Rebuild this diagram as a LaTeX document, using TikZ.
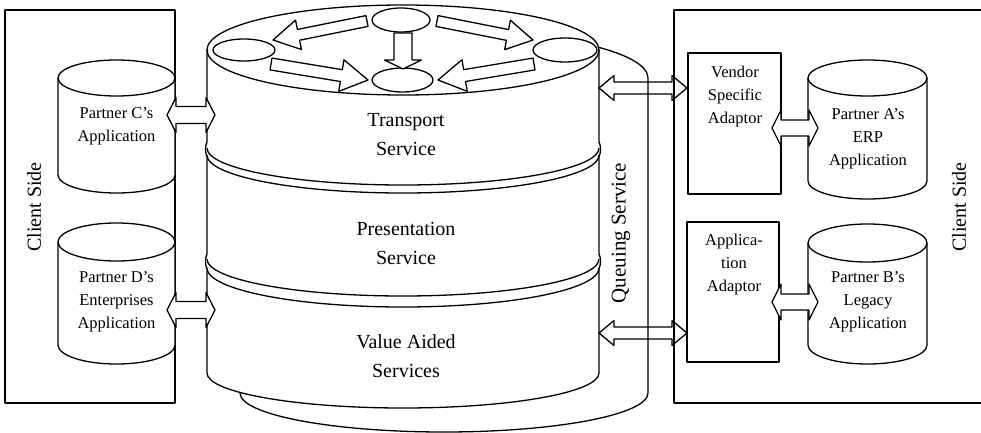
\documentclass[tikz,border=0pt]{standalone}
\usepackage{fontspec}
\setmainfont{Liberation Serif}
\usetikzlibrary{calc}

% database cylinder: centre x, top y, bottom y, x radius, y radius
\newcommand{\dbcyl}[5]{%
  \filldraw[ln, fill=white] ({#1-#4},#2) -- ({#1-#4},#3)
    arc[start angle=180, end angle=360, x radius=#4pt, y radius=#5pt]
    -- ({#1+#4},#2)
    arc[start angle=0, end angle=180, x radius=#4pt, y radius=#5pt] -- cycle;
  \draw[ln] ({#1-#4},#2)
    arc[start angle=180, end angle=360, x radius=#4pt, y radius=#5pt];
}

% one-headed block arrow: tail, tip, shaft half width, head half width, head length
\newcommand{\blockarrow}[5]{%
  \coordinate (ba-n) at ($(#2)!#5!(#1)$);
  \draw[blk] ($(#1)!#3!90:(#2)$) -- ($(ba-n)!#3!90:(#2)$) -- ($(ba-n)!#4!90:(#2)$)
    -- (#2) -- ($(ba-n)!#4!-90:(#2)$) -- ($(ba-n)!#3!-90:(#2)$)
    -- ($(#1)!#3!-90:(#2)$) -- cycle;
}

% two-headed block arrow: end, end, shaft half width, head half width, head length, style
\newcommand{\dblarrow}[6]{%
  \coordinate (da-a) at ($(#1)!#5!(#2)$);
  \coordinate (da-b) at ($(#2)!#5!(#1)$);
  \draw[#6] (#1) -- ($(da-a)!#4!90:(#2)$) -- ($(da-a)!#3!90:(#2)$)
    -- ($(da-b)!#3!90:(#2)$) -- ($(da-b)!#4!90:(#2)$) -- (#2)
    -- ($(da-b)!#4!-90:(#2)$) -- ($(da-b)!#3!-90:(#2)$)
    -- ($(da-a)!#3!-90:(#2)$) -- ($(da-a)!#4!-90:(#2)$) -- cycle;
}

\tikzset{
  ln/.style={line width=1.3pt, line join=round},
  blk/.style={ln, fill=white},
  bigtxt/.style={font=\fontsize{20}{29}\selectfont, align=center, inner sep=0pt},
  smalltxt/.style={font=\fontsize{16.5}{23}\selectfont, align=center, inner sep=0pt},
  sidetxt/.style={font=\fontsize{20}{24}\selectfont, inner sep=0pt, rotate=90},
}

\begin{document}
\begin{tikzpicture}[x=1pt, y=-1pt]
\useasboundingbox (0,0) rectangle (981,433);
\clip (0,0) rectangle (981,433);

% client side frames
\draw[ln] (5,10) rectangle (175,403);
\draw[ln] (674,10) rectangle (1000,403);
\node[sidetxt] (csl) at (34,207) {Client Side};
\node[sidetxt] (csr) at (959,207) {Client Side};

% queuing service drum behind the stack
\filldraw[ln, fill=white] (240,78) -- (240,393)
  arc[start angle=180, end angle=360, x radius=204pt, y radius=39pt]
  -- (648,78)
  arc[start angle=0, end angle=180, x radius=204pt, y radius=47pt] -- cycle;
\node[sidetxt, font=\fontsize{21}{24}\selectfont] (qs) at (621,233) {Queuing Service};

% service stack
\fill[white] (207,50) -- (207,373)
  arc[start angle=180, end angle=360, x radius=196pt, y radius=35pt]
  -- (599,50)
  arc[start angle=0, end angle=180, x radius=196pt, y radius=45pt] -- cycle;
\draw[ln] (403,50) ellipse[x radius=196pt, y radius=45pt];
\draw[ln] (207,50) -- (207,142) .. controls (205,146) and (205,152) .. (207,157)
  -- (207,254) .. controls (205,258) and (205,264) .. (207,269) -- (207,373);
\draw[ln] (599,50) -- (599,142) .. controls (601,146) and (601,152) .. (599,157)
  -- (599,254) .. controls (601,258) and (601,264) .. (599,269) -- (599,373);
\draw[ln] (207,373) arc[start angle=180, end angle=360, x radius=196pt, y radius=35pt];
\draw[ln] (207,148) arc[start angle=180, end angle=360, x radius=196pt, y radius=37pt];
\draw[ln] (207,155) arc[start angle=180, end angle=360, x radius=196pt, y radius=38pt];
\draw[ln] (207,259) arc[start angle=180, end angle=360, x radius=196pt, y radius=37pt];
\draw[ln] (207,268) arc[start angle=180, end angle=360, x radius=196pt, y radius=39pt];

\node[bigtxt] (ts) at (406,135) {Transport\\Service};
\node[bigtxt] (ps) at (406,243) {Presentation\\Service};
\node[bigtxt] (vs) at (406,356) {Value Aided\\Services};

% transport nodes on the top face
\draw[ln] (244,50) ellipse[x radius=31pt, y radius=11pt];
\draw[ln] (401,20) ellipse[x radius=29pt, y radius=12pt];
\draw[ln] (565,50) ellipse[x radius=32pt, y radius=12pt];
\draw[ln] (402.5,80) ellipse[x radius=30.5pt, y radius=12pt];
\coordinate (nt-l) at (367,21);  \coordinate (nl-t) at (273,40);
\coordinate (nt-r) at (437,21);  \coordinate (nr-t) at (533,40);
\coordinate (nl-b) at (271,64);  \coordinate (nb-l) at (368,80);
\coordinate (nr-b) at (534,64);  \coordinate (nb-r) at (438,80);
\coordinate (nt-b) at (403,33);  \coordinate (nb-t) at (403,69);
\blockarrow{nt-l}{nl-t}{5.5pt}{15pt}{26pt}
\blockarrow{nt-r}{nr-t}{5.5pt}{15pt}{26pt}
\blockarrow{nl-b}{nb-l}{6pt}{16pt}{27pt}
\blockarrow{nr-b}{nb-r}{6pt}{16pt}{27pt}
\blockarrow{nt-b}{nb-t}{9pt}{18.5pt}{9pt}

% partner applications
\dbcyl{116.5}{78}{175}{58.5}{18}
\dbcyl{116.5}{242}{345}{58.5}{19}
\dbcyl{867.5}{78}{181}{59.5}{18}
\dbcyl{867.5}{243}{345}{59.5}{19}
\node[smalltxt] (pc) at (116.5,126) {Partner C's\\Application};
\node[smalltxt] (pd) at (116.5,302) {Partner D's\\Enterprises\\Application};
\node[smalltxt] (pa) at (868,139) {Partner A's\\ERP\\Application};
\node[smalltxt] (pb) at (868,302) {Partner B's\\Legacy\\Application};

% adaptors
\draw[ln] (688,53) rectangle (781,194);
\draw[ln] (687,222) rectangle (779,362);
\node[smalltxt] (vsa) at (735,97) {Vendor\\Specific\\Adaptor};
\node[smalltxt] (apa) at (734,265) {Applica-\\tion\\Adaptor};

% links
\coordinate (pc-e) at (167,115);  \coordinate (ts-w) at (215,115);
\coordinate (pd-e) at (167,310);  \coordinate (vs-w) at (215,310);
\coordinate (ts-e) at (599,88);   \coordinate (vsa-w) at (687,88);
\coordinate (vs-e) at (599,333);  \coordinate (apa-w) at (687,333);
\coordinate (vsa-e) at (772,128); \coordinate (pa-w) at (818,128);
\coordinate (apa-e) at (772,302); \coordinate (pb-w) at (818,302);
\dblarrow{pc-e}{ts-w}{8.5pt}{17.5pt}{9pt}{blk}
\dblarrow{pd-e}{vs-w}{8.5pt}{17.5pt}{9pt}{blk}
\dblarrow{ts-e}{vsa-w}{6pt}{12.5pt}{15pt}{ln}
\dblarrow{vs-e}{apa-w}{6pt}{12.5pt}{15pt}{ln}
\dblarrow{vsa-e}{pa-w}{8pt}{18pt}{9pt}{blk}
\dblarrow{apa-e}{pb-w}{8pt}{18pt}{9pt}{blk}
\end{tikzpicture}
\end{document}
